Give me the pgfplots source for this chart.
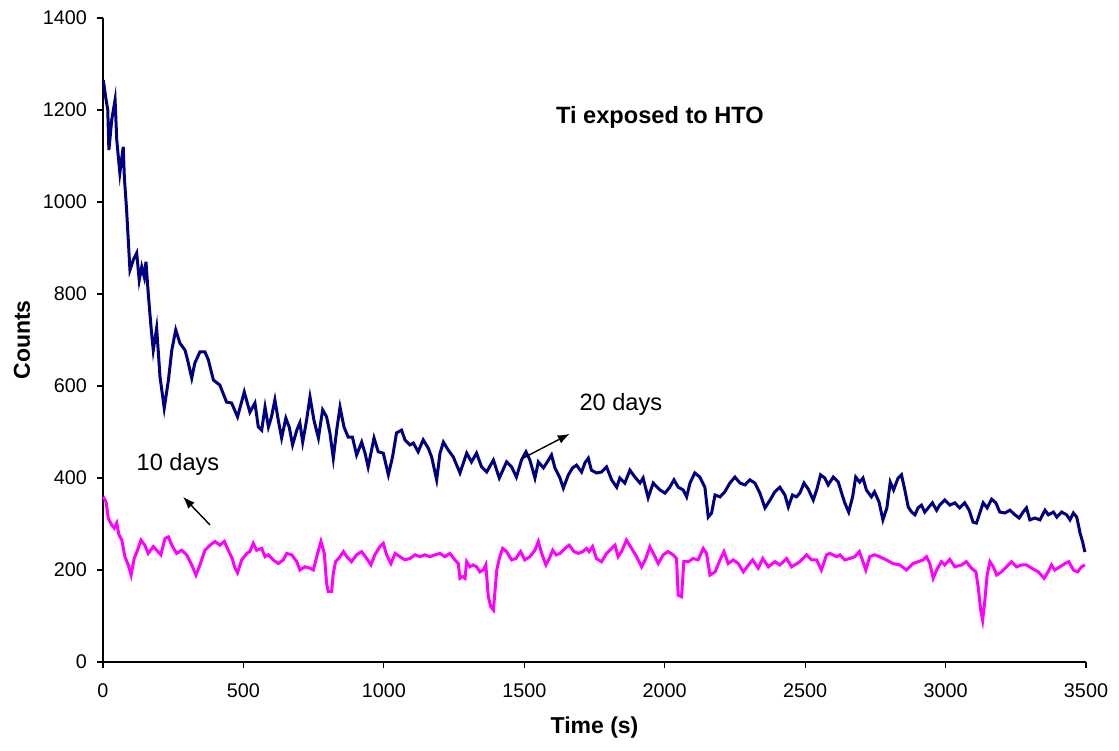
\documentclass[border=0pt]{standalone}
\usepackage{pgfplots}
\pgfplotsset{compat=1.18}
\usetikzlibrary{arrows.meta}
\usepackage{fontspec}
\setmainfont{Liberation Sans}
\definecolor{navyc}{RGB}{0,0,128}
\definecolor{magc}{RGB}{255,0,255}
\begin{document}
\begin{tikzpicture}
\begin{axis}[
  name=ax,
  scale only axis,
  width=491.5pt, height=322pt,
  xmin=0, xmax=3500, ymin=0, ymax=1400,
  axis x line*=bottom, axis y line*=left,
  axis line style={-, black, line width=0.6pt},
  xtick={0,500,...,3500}, ytick={0,200,...,1400},
  tick align=outside, tick style={black, line width=0.6pt},
  major tick length=3pt,
  /pgf/number format/assume math mode=true,
  /pgf/number format/1000 sep={},
  tick label style={font=\fontsize{9.9}{11}\selectfont},
  xticklabel style={yshift=-4.5pt},
  yticklabel style={xshift=-1.5pt},
  clip=false,
]
\addplot[navyc, line width=1.5pt] coordinates {
(1,1265)(11,1222)(17,1200)(21,1113)(31,1178)(43,1222)(49,1135)(60,1063)(72,1120)(76,1054)(84,983)(96,852)(108,874)(120,889)(129,830)(138,859)(147,837)(153,870)(161,802)(171,728)(179,678)(191,726)(203,620)(218,552)(233,613)(245,678)(259,722)(274,693)(292,678)(301,657)(316,617)(327,650)(345,674)(363,674)(375,657)(393,613)(416,602)(440,565)(458,563)(479,533)(503,587)(523,543)
(541,563)(553,511)(565,504)(577,554)(589,511)(600,533)(612,570)(624,526)(636,487)(651,530)(663,511)(675,472)(690,504)(701,520)(711,478)(725,526)(737,576)(751,526)(767,487)(782,548)(796,533)(808,498)(820,443)(832,504)(844,554)(858,511)(873,489)(888,489)(903,450)(921,478)(933,454)(944,424)(965,487)(980,457)(998,454)(1016,407)(1031,446)(1045,498)(1063,504)(1075,483)(1093,472)(1105,476)(1122,457)(1140,483)(1158,465)(1170,446)(1188,396)(1200,454)(1212,478)(1229,461)(1247,446)(1271,411)(1295,454)(1312,435)(1330,454)(1348,424)(1366,413)(1390,439)(1411,400)(1437,435)(1455,424)(1472,402)(1490,439)(1506,457)(1520,439)(1538,400)(1550,435)(1568,422)(1582,435)(1597,450)(1609,422)(1627,400)(1639,378)(1657,407)(1672,422)(1686,428)(1704,413)(1716,433)(1728,443)(1739,417)(1757,411)(1775,413)(1793,424)(1811,396)(1829,380)(1840,400)(1858,389)(1876,417)(1894,402)(1912,389)(1923,400)(1941,357)(1959,389)(1983,374)(2001,367)(2018,380)(2033,396)(2048,380)(2066,374)(2078,359)(2090,389)(2107,411)(2125,402)(2143,380)(2155,315)(2167,324)(2179,363)(2197,359)(2214,370)(2232,389)(2250,402)(2268,389)(2286,385)(2303,396)(2321,389)(2339,367)(2357,335)(2375,352)(2392,370)(2410,380)(2428,363)(2440,337)(2455,363)(2469,359)
(2481,367)(2496,389)(2511,376)(2529,352)(2541,374)(2555,407)(2570,400)(2582,385)(2600,402)(2618,391)(2630,367)(2641,346)(2655,326)(2669,359)(2680,402)(2694,391)(2706,400)(2718,374)(2736,359)(2747,370)(2763,348)(2777,309)(2791,335)(2803,391)(2815,374)(2831,400)(2843,407)(2855,374)(2867,337)(2879,326)(2891,320)(2902,335)(2914,341)(2926,326)(2938,335)(2953,346)(2968,330)(2979,341)(2997,352)(3015,341)(3033,346)(3050,335)(3068,346)(3084,330)(3098,304)(3110,302)(3122,324)(3134,346)(3148,335)(3164,354)(3179,346)(3193,326)(3211,324)(3229,330)(3247,320)(3262,313)(3276,326)(3288,335)(3300,309)(3318,313)(3336,309)(3354,330)(3366,320)(3384,326)(3396,315)(3413,326)(3431,320)(3443,309)(3455,324)(3467,315)(3479,280)(3488,261)(3496,239)
};
\addplot[magc, line width=1.5pt] coordinates {
(1,359)(11,348)(19,312)(31,298)(40,291)(49,302)(57,276)(67,265)(78,229)(90,211)(100,189)(111,225)(123,243)(135,265)(149,254)(161,236)(179,251)(191,243)(206,233)(221,269)(233,272)(245,254)(262,236)(280,243)(298,233)(316,211)(331,189)(345,211)(363,243)(381,254)(399,262)(416,254)(432,262)(446,243)(460,225)(470,204)(479,194)(494,222)(512,236)(523,240)(535,258)(547,243)(565,247)(577,229)(589,233)(606,222)(624,214)(642,222)(654,236)(672,233)(690,218)(701,200)(719,207)(737,204)(749,200)(764,236)(776,262)(788,236)(796,171)(802,153)(814,153)(820,193)(828,218)(844,229)(856,240)(868,229)(885,218)(903,233)(921,240)(939,225)(954,211)(968,233)(986,251)(998,258)(1010,233)(1025,214)(1040,236)(1057,229)(1075,222)(1093,225)(1111,233)(1129,229)(1146,233)(1164,229)(1182,233)(1200,236)(1217,229)(1235,236)(1253,222)(1265,214)(1271,182)(1280,186)(1289,182)(1295,218)(1306,207)(1318,211)(1330,207)(1342,196)(1354,200)(1363,211)(1372,142)(1381,120)(1390,113)(1395,149)(1402,200)(1411,225)(1423,247)(1437,240)(1455,222)(1470,225)(1487,240)(1502,222)(1520,229)(1538,243)(1550,262)(1562,236)(1577,211)(1589,225)(1601,243)(1613,233)(1627,236)(1645,247)(1660,254)(1677,240)(1692,236)(1708,240)(1722,247)(1731,240)(1743,251)(1757,225)(1775,218)(1793,236)(1811,247)(1823,254)(1834,229)(1846,240)(1864,265)(1882,247)(1900,229)(1918,207)(1933,225)(1947,251)(1962,233)(1977,214)(1995,233)(2012,240)(2030,233)(2042,225)(2048,145)(2060,142)(2068,218)(2084,218)(2101,225)(2119,222)(2137,247)(2149,236)(2161,189)(2179,196)(2197,222)(2211,240)(2226,214)(2244,222)(2262,214)(2280,196)(2298,211)(2313,222)(2333,204)(2349,225)(2369,207)(2392,218)(2410,211)(2434,225)(2452,207)(2481,218)(2505,233)(2523,222)(2541,222)(2558,200)(2576,233)(2588,236)(2612,229)(2624,233)(2641,222)(2659,225)(2677,229)(2693,240)(2706,218)(2716,200)(2730,229)(2747,233)(2765,229)(2789,222)(2813,214)(2837,211)(2861,200)(2884,214)(2902,218)(2920,222)(2932,229)(2944,214)(2956,182)(2968,200)(2985,218)(2997,211)(3015,223)(3033,207)(3057,211)(3074,218)(3092,204)(3108,196)(3116,164)(3125,113)(3132,91)(3140,135)(3148,189)(3158,218)(3170,207)(3182,189)(3199,196)(3217,207)(3235,218)(3253,207)(3271,211)(3288,211)(3306,204)(3330,196)(3351,182)(3365,196)(3377,211)(3389,200)(3407,207)(3425,214)(3439,218)(3455,200)(3470,196)(3484,207)(3496,211)
};
\node[font=\fontsize{11.8}{13}\selectfont\bfseries] at (axis cs:1983,1185) {Ti exposed to HTO};
\node[font=\fontsize{11.8}{13}\selectfont] at (axis cs:1844,561) {20 days};
\node[font=\fontsize{11.8}{13}\selectfont] at (axis cs:267,430) {10 days};
\draw[-{Latex[length=6pt,width=4.5pt]}, black, line width=0.7pt] (axis cs:1495,443) -- (axis cs:1662,496);
\draw[-{Latex[length=6pt,width=4.5pt]}, black, line width=0.7pt] (axis cs:381,298) -- (axis cs:285,359);
\end{axis}
\node[font=\fontsize{11.5}{13}\selectfont\bfseries, rotate=90] at ([xshift=-40.5pt]ax.west) {Counts};
\node[font=\fontsize{11.5}{13}\selectfont\bfseries] at ([yshift=-33pt]ax.south) {Time (s)};
\pgfresetboundingbox
\useasboundingbox ([xshift=-51.5pt,yshift=-44pt]ax.south west) rectangle ([xshift=16.5pt,yshift=9pt]ax.north east);
\end{tikzpicture}
\end{document}
